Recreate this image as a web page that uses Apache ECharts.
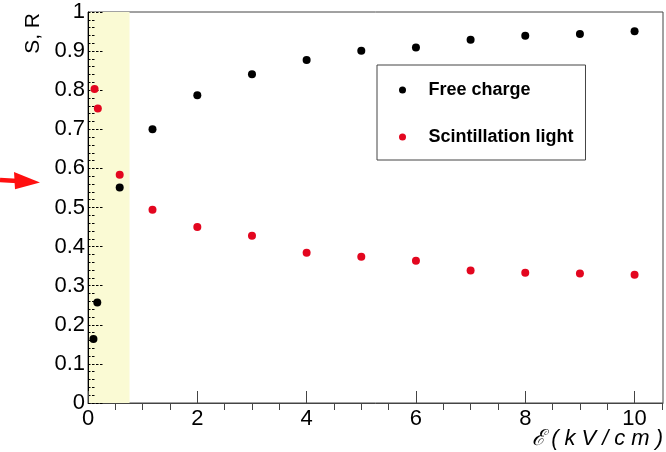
<!DOCTYPE html>
<html>
<head>
<meta charset="utf-8">
<script src="https://cdn.jsdelivr.net/npm/echarts@6/dist/echarts.min.js"></script>
<style>
  html, body { margin: 0; padding: 0; background: #fff; }
  #chart { width: 666px; height: 452px; }
</style>
</head>
<body>
<div id="chart"></div>
<script>
// Field strength (kV/cm) and fractions for free charge (S) and scintillation light (R)
const freeChargeField = [0.1, 0.17, 0.58, 1.18, 2, 3, 4, 5, 6, 7, 8, 9, 10];
const freeChargeValue = [0.164, 0.257, 0.551, 0.700, 0.787, 0.841, 0.877, 0.901, 0.909, 0.929, 0.939, 0.944, 0.951];
const scintField = [0.12, 0.18, 0.58, 1.18, 2, 3, 4, 5, 6, 7, 8, 9, 10];
const scintValue = [0.803, 0.753, 0.584, 0.494, 0.450, 0.428, 0.384, 0.374, 0.364, 0.339, 0.333, 0.331, 0.328];

// Axis ticks
const xMajorTicks = [0, 2, 4, 6, 8, 10];
const xMinorTicks = [0.5, 1, 1.5, 2.5, 3, 3.5, 4.5, 5, 5.5, 6.5, 7, 7.5, 8.5, 9, 9.5, 10.5];
const xRange = [0, 10.52];

// Low-field band and the value the side arrow points at
const shadedBand = [0, 0.76];
const arrowValue = 0.564;

const seriesNames = ['Free charge', 'Scintillation light'];
const xTitleGlyphs = ['ℰ', '(', 'k', 'V', '/', 'c', 'm', ')'];
const yTitle = 'S, R';
const FONT = '"Liberation Sans", Arial, Helvetica, sans-serif';

const zip = (xs, ys) => xs.map((x, i) => [x, ys[i]]);

const chart = echarts.init(document.getElementById('chart'), null, { renderer: 'canvas' });

const dashedTick = { color: '#000', width: 1, type: [2.5, 1.5] };

chart.setOption({
  backgroundColor: '#fff',
  animation: false,
  grid: {
    left: 88, right: 3, top: 12, bottom: 49,
    containLabel: false, outerBoundsMode: 'none',
    show: true, borderColor: '#444', borderWidth: 1, backgroundColor: 'transparent'
  },
  legend: {
    orient: 'vertical',
    left: 377, top: 65,
    itemWidth: 42, itemHeight: 7, itemGap: 27,
    padding: [15, 12, 13, 22],
    borderColor: '#444', borderWidth: 1, backgroundColor: '#fff',
    selectedMode: false,
    itemStyle: { opacity: 1 },
    textStyle: { fontFamily: FONT, fontWeight: 'bold', fontSize: 18, color: '#000', lineHeight: 20 },
    data: seriesNames
  },
  xAxis: [{
    type: 'value', min: xRange[0], max: xRange[1], z: 3,
    axisLine: { show: true, onZero: false, lineStyle: { color: '#444', width: 1 } },
    axisTick: { show: true, inside: true, length: 12, customValues: xMajorTicks, lineStyle: { color: '#444', width: 1 } },
    axisLabel: { customValues: xMajorTicks, margin: 5, fontFamily: FONT, fontSize: 22, color: '#000' },
    splitLine: { show: false }
  }, {
    type: 'value', min: xRange[0], max: xRange[1], z: 3,
    axisLine: { show: false },
    axisTick: { show: true, inside: true, length: 7, customValues: xMinorTicks, lineStyle: { color: '#444', width: 1 } },
    axisLabel: { show: false },
    splitLine: { show: false }
  }],
  yAxis: {
    type: 'value', min: 0, max: 1, interval: 0.1, z: 3,
    axisLine: { show: true, onZero: false, lineStyle: { color: '#000', width: 1 } },
    axisTick: { show: true, inside: true, length: 16, lineStyle: dashedTick },
    minorTick: { show: true, splitNumber: 5, length: 8, lineStyle: dashedTick },
    axisLabel: { margin: 3, fontFamily: FONT, fontSize: 22, color: '#000' },
    splitLine: { show: false }
  },
  series: [
    {
      // pale band over the low-field region
      type: 'custom', z: 2, silent: true,
      data: [shadedBand],
      renderItem: (params, api) => {
        const x0 = api.value(0), x1 = api.value(1);
        const p0 = api.coord([x0, 1]);
        const p1 = api.coord([x1, 0]);
        return {
          type: 'rect',
          shape: { x: p0[0], y: p0[1], width: p1[0] - p0[0], height: p1[1] - p0[1] },
          style: { fill: '#fafad4' }
        };
      }
    },
    {
      name: seriesNames[0], type: 'scatter', z: 4,
      symbol: 'circle', symbolSize: 8,
      itemStyle: { color: '#000', opacity: 1 },
      data: zip(freeChargeField, freeChargeValue)
    },
    {
      name: seriesNames[1], type: 'scatter', z: 4,
      symbol: 'circle', symbolSize: 8,
      itemStyle: { color: '#e3061f', opacity: 1 },
      data: zip(scintField, scintValue)
    }
  ]
});

// Axis titles and the red pointer beside the y axis
const yTip = chart.convertToPixel({ yAxisIndex: 0 }, arrowValue);
const xEnd = chart.convertToPixel({ xAxisIndex: 0 }, xRange[1]);
const yBottom = chart.convertToPixel({ yAxisIndex: 0 }, 0);
chart.setOption({
  graphic: [
    {
      type: 'text', x: 33, y: 13, rotation: Math.PI / 2,
      style: { text: yTitle, font: '21px ' + FONT, fill: '#000', align: 'right', verticalAlign: 'middle' }
    },
    {
      type: 'text', x: xEnd + 3, y: yBottom + 25,
      style: {
        text: xTitleGlyphs.map(g => '{t|' + g + '}').join(''),
        align: 'right', verticalAlign: 'top',
        rich: { t: { fontFamily: FONT, fontStyle: 'italic', fontSize: 22, fill: '#000', padding: [0, 3, 0, 3] } }
      }
    },
    {
      type: 'line', z: 10,
      shape: { x1: 0, y1: yTip - 2.6, x2: 22, y2: yTip - 1.2 },
      style: { stroke: '#ff1010', lineWidth: 4.5 }
    },
    {
      type: 'polygon', z: 10,
      shape: { points: [[14, yTip - 10.6], [40, yTip], [15, yTip + 6.7]] },
      style: { fill: '#ff1010' }
    }
  ]
});
</script>
</body>
</html>
